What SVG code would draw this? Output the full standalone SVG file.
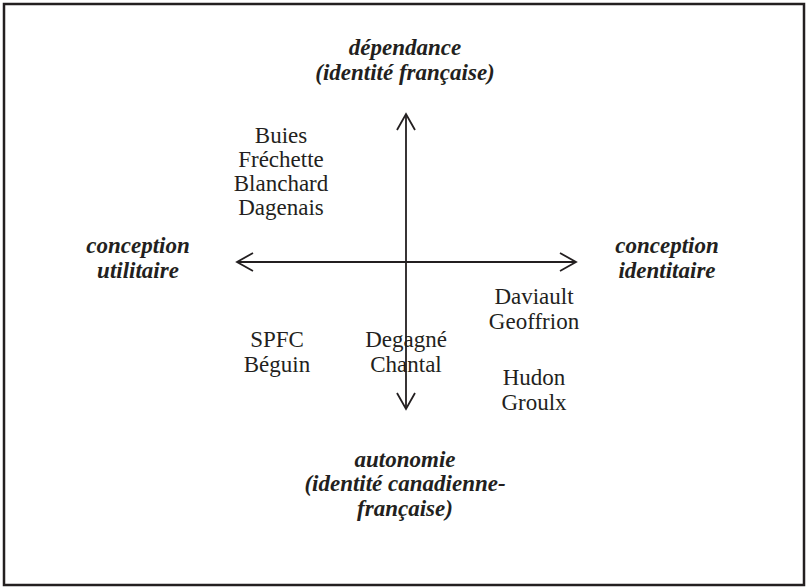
<svg xmlns="http://www.w3.org/2000/svg" width="806" height="587" viewBox="0 0 806 587">
<style>
.n{font-family:"Liberation Serif","Times New Roman",serif;font-size:23px;fill:#231f20;text-anchor:middle}
.l{font-family:"Liberation Serif","Times New Roman",serif;font-size:23px;font-weight:bold;font-style:italic;fill:#231f20;text-anchor:middle}
.ax{stroke:#231f20;stroke-width:1.8;fill:none}
</style>
<defs>
<marker id="ah" viewBox="0 0 20 20" refX="18" refY="10" markerWidth="20" markerHeight="20" markerUnits="userSpaceOnUse" orient="auto">
<path d="M2,1 L18,10 L2,19" fill="none" stroke="#231f20" stroke-width="1.8"/>
</marker>
</defs>
<rect x="4" y="4" width="800" height="581" fill="#fff" stroke="#231f20" stroke-width="2.5"/>
<g id="connectors">
<line class="ax" x1="406" y1="262" x2="406" y2="114" marker-end="url(#ah)"/>
<line class="ax" x1="406" y1="262" x2="406" y2="409" marker-end="url(#ah)"/>
<line class="ax" x1="407" y1="262" x2="237" y2="262" marker-end="url(#ah)"/>
<line class="ax" x1="405" y1="262" x2="576" y2="262" marker-end="url(#ah)"/>
</g>
<g id="top"><text class="l" x="405" y="55">dépendance</text><text class="l" x="405" y="80">(identité française)</text></g>
<g id="bottom"><text class="l" x="405" y="467">autonomie</text><text class="l" x="405" y="491">(identité canadienne-</text><text class="l" x="405" y="516">française)</text></g>
<g id="left"><text class="l" x="138" y="253">conception</text><text class="l" x="138" y="278">utilitaire</text></g>
<g id="right"><text class="l" x="667" y="253">conception</text><text class="l" x="667" y="278">identitaire</text></g>
<g id="q1"><text class="n" x="281" y="143">Buies</text><text class="n" x="281" y="167">Fréchette</text><text class="n" x="281" y="191">Blanchard</text><text class="n" x="281" y="215">Dagenais</text></g>
<g id="q2"><text class="n" x="534" y="304">Daviault</text><text class="n" x="534" y="329">Geoffrion</text></g>
<g id="q3"><text class="n" x="277" y="347">SPFC</text><text class="n" x="277" y="372">Béguin</text></g>
<g id="q4"><text class="n" x="406" y="347">Degagné</text><text class="n" x="406" y="372">Chantal</text></g>
<g id="q5"><text class="n" x="534" y="385">Hudon</text><text class="n" x="534" y="410">Groulx</text></g>
</svg>
